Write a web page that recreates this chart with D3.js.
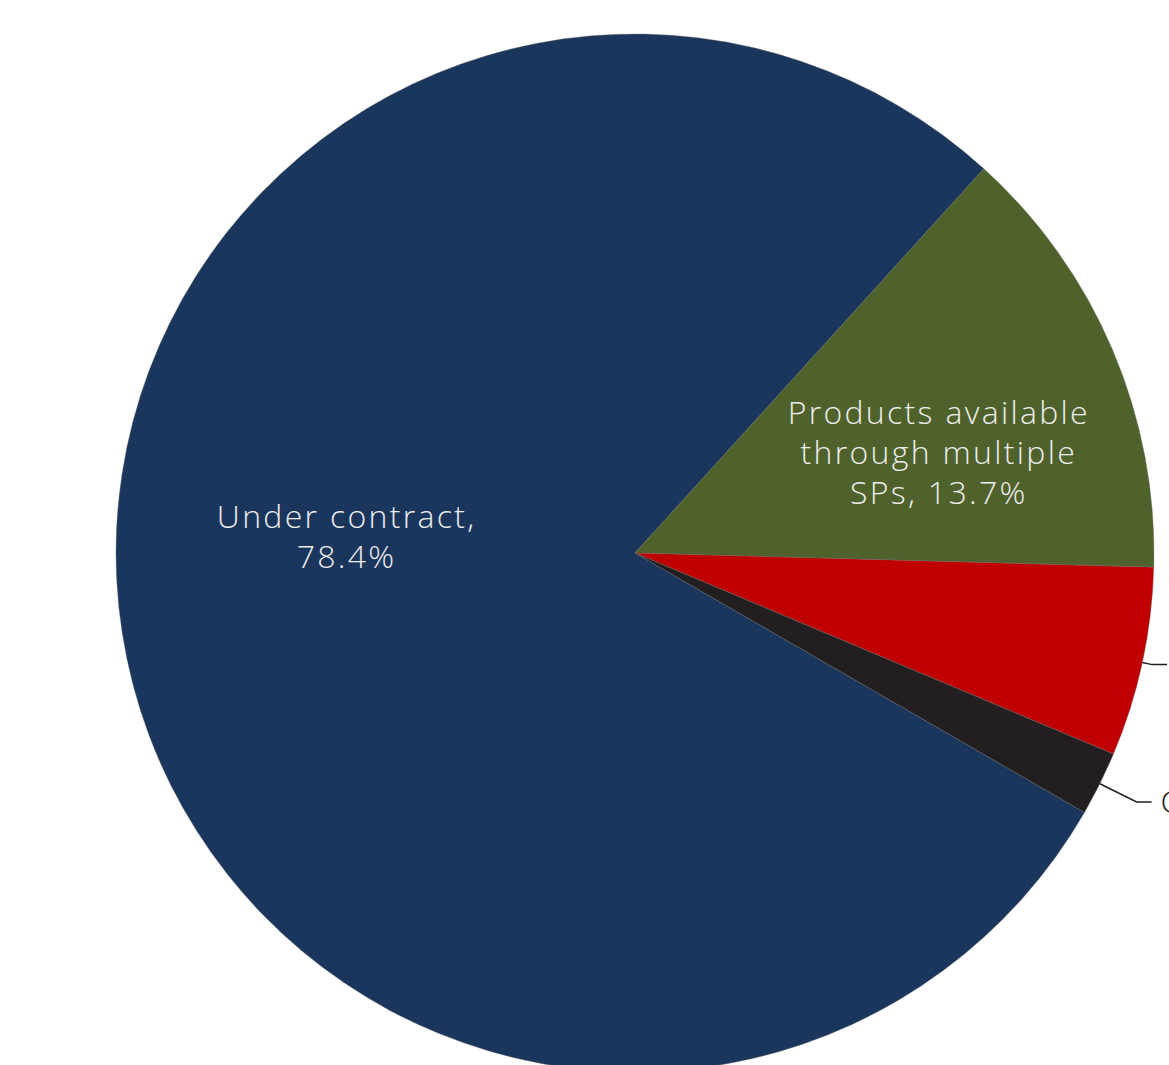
<!DOCTYPE html>
<html>
<head>
<meta charset="utf-8">
<script src="https://cdn.jsdelivr.net/npm/d3@7"></script>
<style>
  html, body { margin: 0; padding: 0; background: #fff; overflow: hidden; }
  svg { display: block; }
</style>
</head>
<body>
<svg id="chart" width="1169" height="1065"></svg>
<script>
// data
const categories = ["Under contract", "Products available through multiple SPs", "Not under contract", "Contract pending"];
const values = [78.4, 13.7, 5.9, 2.0];
const labelLines = [
  ["Under contract,", "78.4%"],
  ["Products available", "through multiple", "SPs, 13.7%"],
  ["Not under contract, 5.9%"],
  ["Contract pending, 2.0%"]
];
const colors = ["#1b365d", "#50622b", "#c00000", "#231f20"];

const width = 1169, height = 1065;
const cx = 635, cy = 553, radius = 519;
const fontSize = 32, lineHeight = 40, letterSpacing = 2.3;
const fontFamily = "'Open Sans', Lato, sans-serif";

// label placement (polar: degrees clockwise from top, distance from centre)
const insideLabel = { 0: { a: 273.2, r: 290 }, 1: { a: 71.6, r: 319 } };
const outsideLabel = { 2: { elbow: 529 }, 3: { elbow: 560 } };

const svg = d3.select("#chart");
const g = svg.append("g").attr("transform", `translate(${cx},${cy})`);

const toRad = d => d * Math.PI / 180;

const pie = d3.pie()
  .sort(null)
  .value(d => d)
  .startAngle(toRad(120))
  .endAngle(toRad(480));

const arcs = pie(values);

const arc = d3.arc().innerRadius(0).outerRadius(radius);

g.selectAll("path.slice")
  .data(arcs)
  .enter()
  .append("path")
  .attr("class", "slice")
  .attr("d", arc)
  .attr("fill", (d, i) => colors[i])
  .attr("stroke", "#6b6b6b")
  .attr("stroke-width", 0.4);

const polar = (a, r) => [r * Math.sin(toRad(a)), -r * Math.cos(toRad(a))];

// labels inside the big slices
Object.keys(insideLabel).forEach(k => {
  const i = +k;
  const p = polar(insideLabel[i].a, insideLabel[i].r);
  const lines = labelLines[i];
  const t = g.append("text")
    .attr("text-anchor", "middle")
    .attr("font-family", fontFamily)
    .attr("font-weight", 300)
    .attr("font-size", fontSize)
    .attr("letter-spacing", letterSpacing)
    .attr("fill", "#ececec");
  lines.forEach((line, j) => {
    t.append("tspan")
      .attr("x", p[0] + letterSpacing / 2)
      .attr("y", p[1] + (j - (lines.length - 1) / 2) * lineHeight)
      .attr("dy", "0.35em")
      .text(line);
  });
});

// leader lines + labels outside the small slices
Object.keys(outsideLabel).forEach(k => {
  const i = +k;
  const d = arcs[i];
  const mid = (d.startAngle + d.endAngle) / 2;
  const start = [radius * Math.sin(mid), -radius * Math.cos(mid)];
  const er = outsideLabel[i].elbow;
  const elbow = [er * Math.sin(mid), -er * Math.cos(mid)];
  const end = [elbow[0] + 15, elbow[1]];
  g.append("polyline")
    .attr("points", [start, elbow, end].map(p => p.join(",")).join(" "))
    .attr("fill", "none")
    .attr("stroke", "#231f20")
    .attr("stroke-width", 1.5);
  const t = g.append("text")
    .attr("text-anchor", "start")
    .attr("font-family", fontFamily)
    .attr("font-weight", 300)
    .attr("font-size", fontSize)
    .attr("letter-spacing", letterSpacing)
    .attr("fill", "#231f20");
  labelLines[i].forEach((line, j) => {
    t.append("tspan")
      .attr("x", end[0] + 9)
      .attr("y", end[1] + j * lineHeight)
      .attr("dy", "0.35em")
      .text(line);
  });
});
</script>
</body>
</html>
